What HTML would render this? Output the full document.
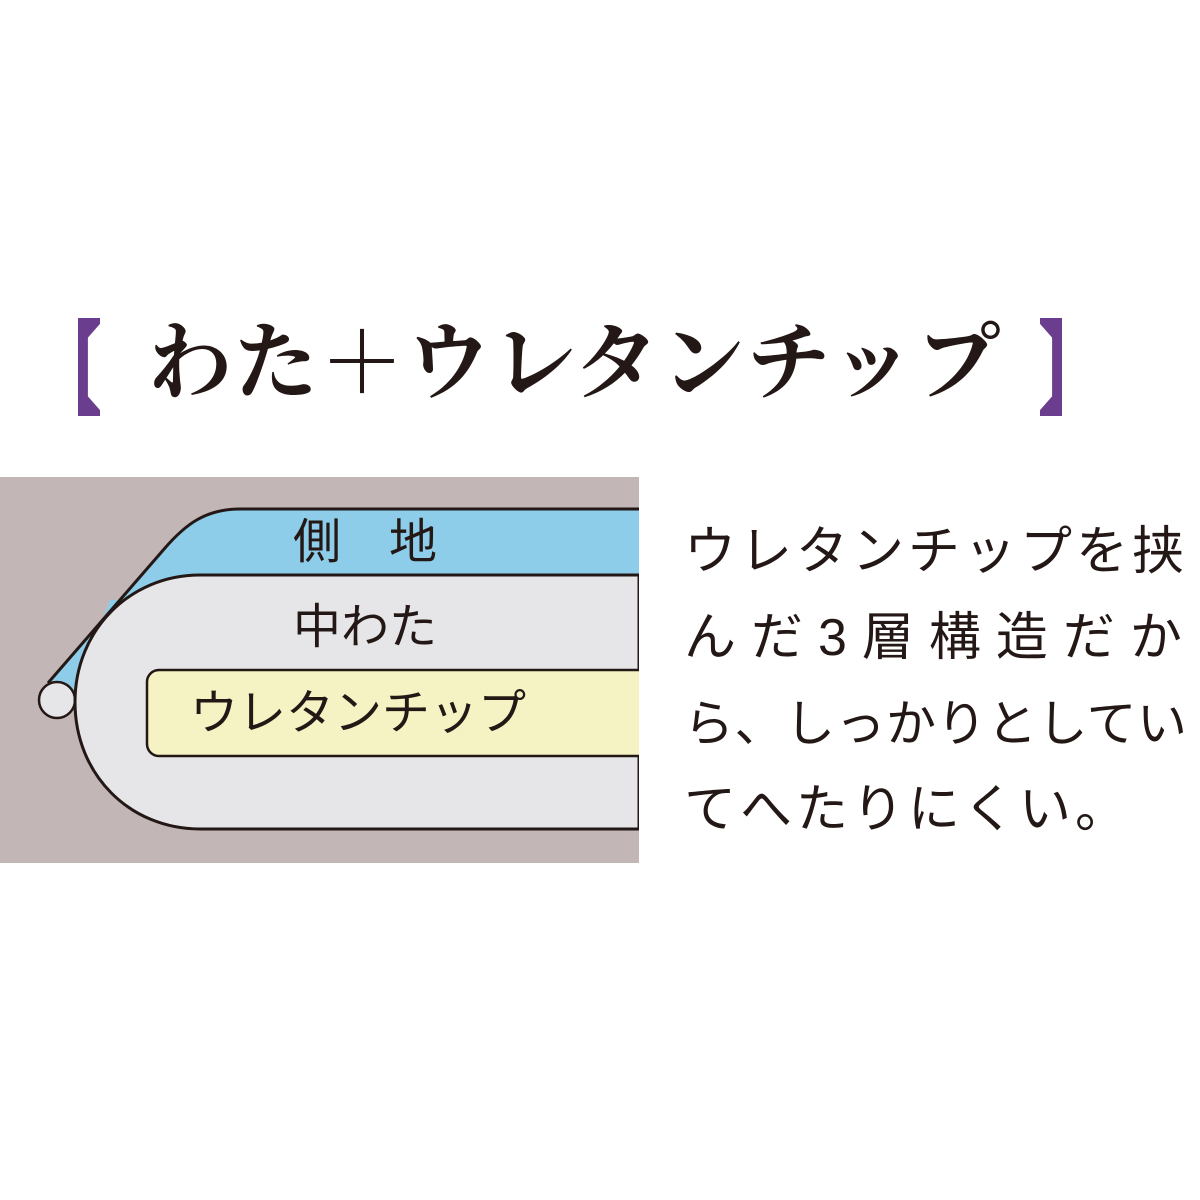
<!DOCTYPE html>
<html><head><meta charset="utf-8"><style>
body{margin:0;width:1200px;height:1200px;background:#fff;position:relative;overflow:hidden;font-family:"Liberation Sans","Noto Sans CJK JP",sans-serif;color:#231815}
.t{position:absolute;white-space:nowrap}
</style></head><body>
<div style="position:absolute;left:78px;top:318px;width:22px;height:98px;background:#6b3d8e;clip-path:polygon(0 0,100% 0,100% 6%,45% 20%,45% 80%,100% 94%,100% 100%,0 100%)"></div>
<div style="position:absolute;left:1040px;top:318px;width:22px;height:98px;background:#6b3d8e;clip-path:polygon(0 0,100% 0,100% 100%,0 100%,0 94%,55% 80%,55% 20%,0 6%)"></div>
<div class="t" style="left:148px;top:300px;font-size:84px;font-family:'Liberation Serif','Noto Serif CJK JP',serif;font-weight:bold;letter-spacing:2px;line-height:130px">わた＋ウレタンチップ</div>
<svg style="position:absolute;left:0;top:0" width="1200" height="1200">
<rect x="0" y="477" width="639" height="386" fill="#c3b6b6"/>
<path d="M639,509 H240 C205,509 185,525 165,548 L48,683 L76,692 L110,600 L639,580 Z" fill="#8ecdea"/>
<path d="M639,509 H240 C205,509 185,525 165,548 L48,683" fill="none" stroke="#231815" stroke-width="3"/>
<circle cx="57" cy="700" r="18" fill="#e6e5e7" stroke="#231815" stroke-width="2.5"/>
<path d="M639,575 H200 C130,575 75,630 75,702 C75,775 130,829 200,829 H639 Z" fill="#e6e5e7" stroke="#231815" stroke-width="3"/>
<rect x="147" y="670" width="520" height="86" rx="12" fill="#f5f2c3" stroke="#231815" stroke-width="2.5"/>
<rect x="639" y="470" width="60" height="400" fill="#fff"/>
</svg>
<div class="t" style="left:293px;top:515px;font-size:48px;line-height:56px">側&emsp;地</div>
<div class="t" style="left:293px;top:600px;font-size:48px;line-height:56px">中わた</div>
<div class="t" style="left:190px;top:686px;font-size:48px;line-height:56px">ウレタンチップ</div>
<div class="t" style="left:684px;top:512px;font-size:52px;line-height:80px;letter-spacing:4px">ウレタンチップを挟</div>
<div class="t" style="left:684px;top:598px;font-size:52px;line-height:80px;letter-spacing:15px">んだ3層構造だか</div>
<div class="t" style="left:684px;top:684px;font-size:50px;line-height:80px;letter-spacing:0.5px">ら、しっかりとしてい</div>
<div class="t" style="left:684px;top:770px;font-size:52px;line-height:80px;letter-spacing:4px">てへたりにくい。</div>
</body></html>
